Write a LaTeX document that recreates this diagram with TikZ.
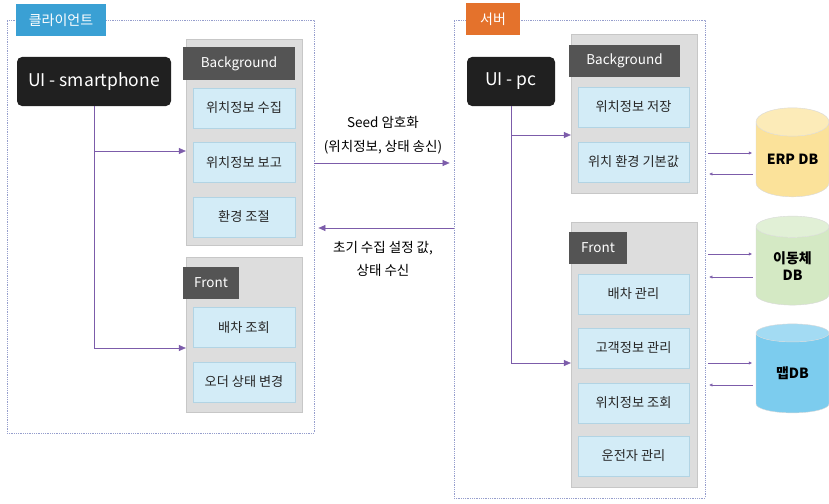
\documentclass[tikz,border=0pt]{standalone}
\usepackage{fontspec}
\setmainfont{Noto Sans CJK KR}
\usetikzlibrary{arrows.meta, shapes.geometric}

\definecolor{zoneline}{RGB}{150,158,205}
\definecolor{clientblue}{RGB}{58,160,212}
\definecolor{serverorange}{RGB}{228,114,44}
\definecolor{uiblack}{RGB}{32,32,32}
\definecolor{headgray}{RGB}{84,84,84}
\definecolor{groupgray}{RGB}{221,221,221}
\definecolor{itemblue}{RGB}{211,236,247}
\definecolor{itemline}{RGB}{178,212,228}
\definecolor{linkpurple}{RGB}{124,92,170}
\definecolor{erpyellow}{RGB}{251,226,154}
\definecolor{movegreen}{RGB}{212,233,196}
\definecolor{mapblue}{RGB}{124,204,238}

\tikzset{
    zone/.style={draw=zoneline, densely dotted, line width=0.8pt},
    tag/.style={text=white, font=\fontsize{14}{16}\selectfont, minimum height=32pt, inner sep=0pt},
    ui/.style={fill=uiblack, rounded corners=5pt, text=white, font=\fontsize{17.5}{20}\selectfont, minimum height=49pt, inner sep=0pt},
    group/.style={fill=groupgray, draw=groupgray!90!black, line width=0.3pt},
    head/.style={fill=headgray, text=white, font=\fontsize{13.5}{16}\selectfont, minimum height=32pt, inner sep=0pt},
    item/.style={fill=itemblue, draw=itemline, line width=0.6pt, text=black!85, font=\fontsize{13.2}{15}\selectfont, minimum height=40pt, inner sep=0pt},
    link/.style={draw=linkpurple, line width=0.6pt, -{Triangle[length=7pt, width=6pt]}},
    dblink/.style={draw=linkpurple, line width=0.4pt, -{Triangle[length=3pt, width=3pt]}},
    db/.style={cylinder, shape border rotate=90, aspect=0.55, cylinder uses custom fill, draw=black!15, line width=0.4pt, minimum width=73pt, minimum height=89pt, inner sep=0pt, font=\bfseries\fontsize{14}{17}\selectfont, align=center}
}

\begin{document}
\begin{tikzpicture}[x=1pt, y=-1pt]
        \useasboundingbox[fill=white] (0,0) rectangle (829,503);

        % client side
        \node[zone, minimum width=307pt, minimum height=413pt] (client) at (160.5,226.5) {};
        \node[tag, fill=clientblue, minimum width=90pt] (clienttag) at (61,20) {클라이언트};
        \node[ui, minimum width=154pt] (phone) at (94,81.5) {UI - smartphone};

        \node[group, minimum width=116pt, minimum height=206pt] (cbg) at (244,142) {};
        \node[head, minimum width=112pt] (cbghead) at (239,63.5) {Background};
        \node[item, minimum width=102pt] (collect) at (244,108) {위치정보 수집};
        \node[item, minimum width=102pt] (report) at (244,162.5) {위치정보 보고};
        \node[item, minimum width=102pt] (adjust) at (244,217) {환경 조절};

        \node[group, minimum width=116pt, minimum height=155pt] (cfront) at (244,334.5) {};
        \node[head, minimum width=56pt] (cfronthead) at (211,283) {Front};
        \node[item, minimum width=102pt] (dispatchview) at (244,327.5) {배차 조회};
        \node[item, minimum width=102pt] (orderstate) at (244,382) {오더 상태 변경};

        \draw[link] (phone.south) |- ([yshift=-9pt]cbg.west);
        \draw[link] (phone.south) |- ([yshift=-13.5pt]cfront.west);

        % server side
        \node[zone, minimum width=251pt, minimum height=478pt] (server) at (579.5,259) {};
        \node[tag, fill=serverorange, minimum width=54pt] (servertag) at (493,19) {서버};
        \node[ui, minimum width=88pt] (pc) at (511,81.5) {UI - pc};

        \node[group, minimum width=126pt, minimum height=159pt] (sbg) at (634,113.5) {};
        \node[head, minimum width=111pt] (sbghead) at (624.5,61) {Background};
        \node[item, minimum width=111pt] (store) at (633.5,107) {위치정보 저장};
        \node[item, minimum width=111pt] (defaults) at (633.5,162) {위치 환경 기본값};

        \node[group, minimum width=126pt, minimum height=265pt] (sfront) at (634,354.5) {};
        \node[head, minimum width=58pt] (sfronthead) at (598,248) {Front};
        \node[item, minimum width=111pt] (dispatch) at (633.5,294) {배차 관리};
        \node[item, minimum width=111pt] (customer) at (633.5,348) {고객정보 관리};
        \node[item, minimum width=111pt] (locview) at (633.5,403) {위치정보 조회};
        \node[item, minimum width=111pt] (driver) at (633.5,456) {운전자 관리};

        \draw[link] (pc.south) |- ([yshift=-21.5pt]sbg.west);
        \draw[link] (pc.south) |- ([yshift=-8.5pt]sfront.west);

        % between client and server
        \node[font=\fontsize{13.5}{24}\selectfont, align=center] (sendnote) at (383,135) {Seed 암호화\\(위치정보, 상태 송신)};
        \node[font=\fontsize{13.5}{23}\selectfont, align=center] (recvnote) at (383,258.5) {초기 수집 설정 값,\\상태 수신};
        \draw[link, shorten >=4pt] (client.east |- 0,163) -- (server.west |- 0,163);
        \draw[link, shorten >=4pt] (server.west |- 0,228) -- (client.east |- 0,228);

        % databases
        \node[db, cylinder body fill=erpyellow, cylinder end fill=erpyellow!70!white] (erp) at (792.5,159.5) {ERP DB};
        \node[db, cylinder body fill=movegreen, cylinder end fill=movegreen!70!white] (movedb) at (792.5,266) {이동체\\DB};
        \node[db, cylinder body fill=mapblue, cylinder end fill=mapblue!70!white] (mapdb) at (792.5,373) {맵DB};

        \draw[dblink, shorten <=3pt, shorten >=4pt] (server.east |- 0,153) -- (erp.west |- 0,153);
        \draw[dblink, shorten <=3pt, shorten >=4pt] (erp.west |- 0,174) -- (server.east |- 0,174);
        \draw[dblink, shorten <=3pt, shorten >=4pt] (server.east |- 0,254) -- (movedb.west |- 0,254);
        \draw[dblink, shorten <=3pt, shorten >=4pt] (movedb.west |- 0,277) -- (server.east |- 0,277);
        \draw[dblink, shorten <=3pt, shorten >=4pt] (server.east |- 0,363) -- (mapdb.west |- 0,363);
        \draw[dblink, shorten <=3pt, shorten >=4pt] (mapdb.west |- 0,385) -- (server.east |- 0,385);
\end{tikzpicture}
\end{document}
